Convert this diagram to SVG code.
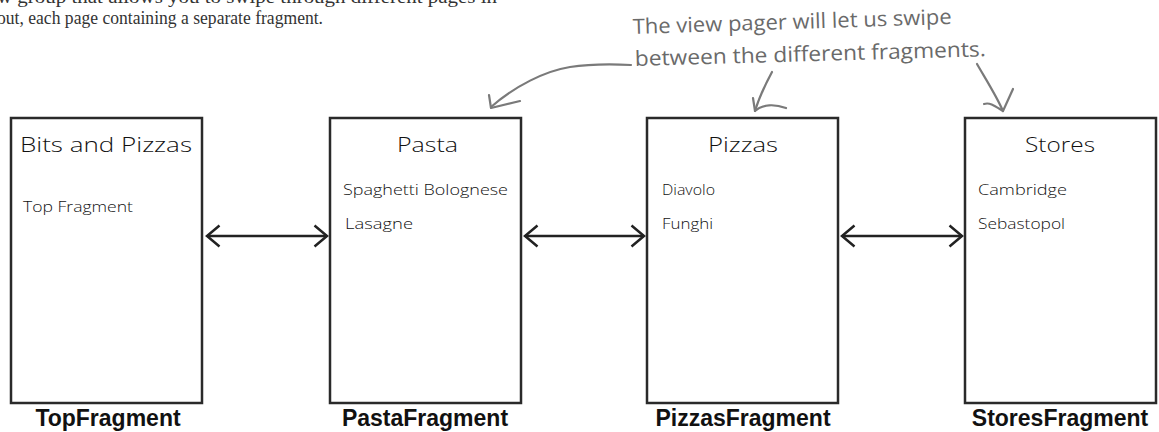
<svg xmlns="http://www.w3.org/2000/svg" width="1159" height="432" viewBox="0 0 1159 432">
<defs>
<marker id="chev" viewBox="0 0 16 24" refX="14" refY="12" markerWidth="16" markerHeight="24" markerUnits="userSpaceOnUse" orient="auto-start-reverse">
<path d="M1.5,1.5 L14,12 L1.5,22.5" fill="none" stroke="#222" stroke-width="2.5"/>
</marker>
<style>
.box{fill:#fff;stroke:#2a2a2a;stroke-width:2.5}
.title{font-family:"Open Sans","Lato",sans-serif;font-weight:300;font-size:20px;fill:#111}
.item{font-family:"Open Sans","Lato",sans-serif;font-weight:300;font-size:15px;fill:#111}
.label{font-family:"Liberation Sans",Arial,sans-serif;font-weight:bold;font-size:23px;fill:#111;text-anchor:middle}
.link{fill:none;stroke:#222;stroke-width:2.5}
.note{font-family:"Open Sans","Lato",sans-serif;font-size:21px;fill:#6a6a6a}
.ann{fill:none;stroke:#7a7a7a;stroke-width:2.2;stroke-linecap:round;stroke-linejoin:round}
.body{font-family:"Liberation Serif","Times New Roman",serif;font-size:19px;fill:#333}
</style>
</defs>
<text class="body" x="-3" y="3" textLength="500" lengthAdjust="spacingAndGlyphs">w group that allows you to swipe through different pages in</text>
<text class="body" x="-3" y="24" textLength="326" lengthAdjust="spacingAndGlyphs">out, each page containing a separate fragment.</text>

<g id="node-top">
<rect class="box" x="11" y="118" width="191" height="285"/>
<text class="title" x="20" y="152" textLength="172" lengthAdjust="spacingAndGlyphs">Bits and Pizzas</text>
<text class="item" x="23" y="212" textLength="110" lengthAdjust="spacingAndGlyphs">Top Fragment</text>
<text class="label" x="108" y="426">TopFragment</text>
</g>
<g id="node-pasta">
<rect class="box" x="330" y="118" width="191" height="285"/>
<text class="title" x="397" y="152" textLength="61" lengthAdjust="spacingAndGlyphs">Pasta</text>
<text class="item" x="343" y="195" textLength="165" lengthAdjust="spacingAndGlyphs">Spaghetti Bolognese</text>
<text class="item" x="345" y="229" textLength="68" lengthAdjust="spacingAndGlyphs">Lasagne</text>
<text class="label" x="425" y="426">PastaFragment</text>
</g>
<g id="node-pizzas">
<rect class="box" x="647" y="118" width="191" height="285"/>
<text class="title" x="708" y="152" textLength="70" lengthAdjust="spacingAndGlyphs">Pizzas</text>
<text class="item" x="662" y="195" textLength="53" lengthAdjust="spacingAndGlyphs">Diavolo</text>
<text class="item" x="662" y="229" textLength="51" lengthAdjust="spacingAndGlyphs">Funghi</text>
<text class="label" x="743" y="426">PizzasFragment</text>
</g>
<g id="node-stores">
<rect class="box" x="965" y="118" width="191" height="285"/>
<text class="title" x="1025" y="152" textLength="70" lengthAdjust="spacingAndGlyphs">Stores</text>
<text class="item" x="978" y="195" textLength="89" lengthAdjust="spacingAndGlyphs">Cambridge</text>
<text class="item" x="978" y="229" textLength="87" lengthAdjust="spacingAndGlyphs">Sebastopol</text>
<text class="label" x="1060" y="426">StoresFragment</text>
</g>

<g id="connectors">
<line class="link" x1="207" y1="236" x2="327" y2="236" marker-start="url(#chev)" marker-end="url(#chev)"/>
<line class="link" x1="525" y1="236" x2="644" y2="236" marker-start="url(#chev)" marker-end="url(#chev)"/>
<line class="link" x1="842" y1="236" x2="962" y2="236" marker-start="url(#chev)" marker-end="url(#chev)"/>
</g>

<g id="annotation">
<text class="note" transform="rotate(-1.8 633 34)" x="633" y="34" textLength="319" lengthAdjust="spacingAndGlyphs">The view pager will let us swipe</text>
<text class="note" transform="rotate(-1.6 635 66)" x="635" y="66" textLength="351" lengthAdjust="spacingAndGlyphs">between the different fragments.</text>
<path class="ann" d="M631,65 C610,64 590,64 570,67 C545,71 515,86 491,107"/>
<path class="ann" d="M489,95 L491,108 L520,101"/>
<path class="ann" d="M772,72 C765,85 759,98 755,111"/>
<path class="ann" d="M753,98 L755,111 C763,104 775,104 786,108"/>
<path class="ann" d="M977,64 C985,78 996,95 1003,111"/>
<path class="ann" d="M984,104 C990,102 995,106 1003,111 L1013,89"/>
</g>
</svg>
